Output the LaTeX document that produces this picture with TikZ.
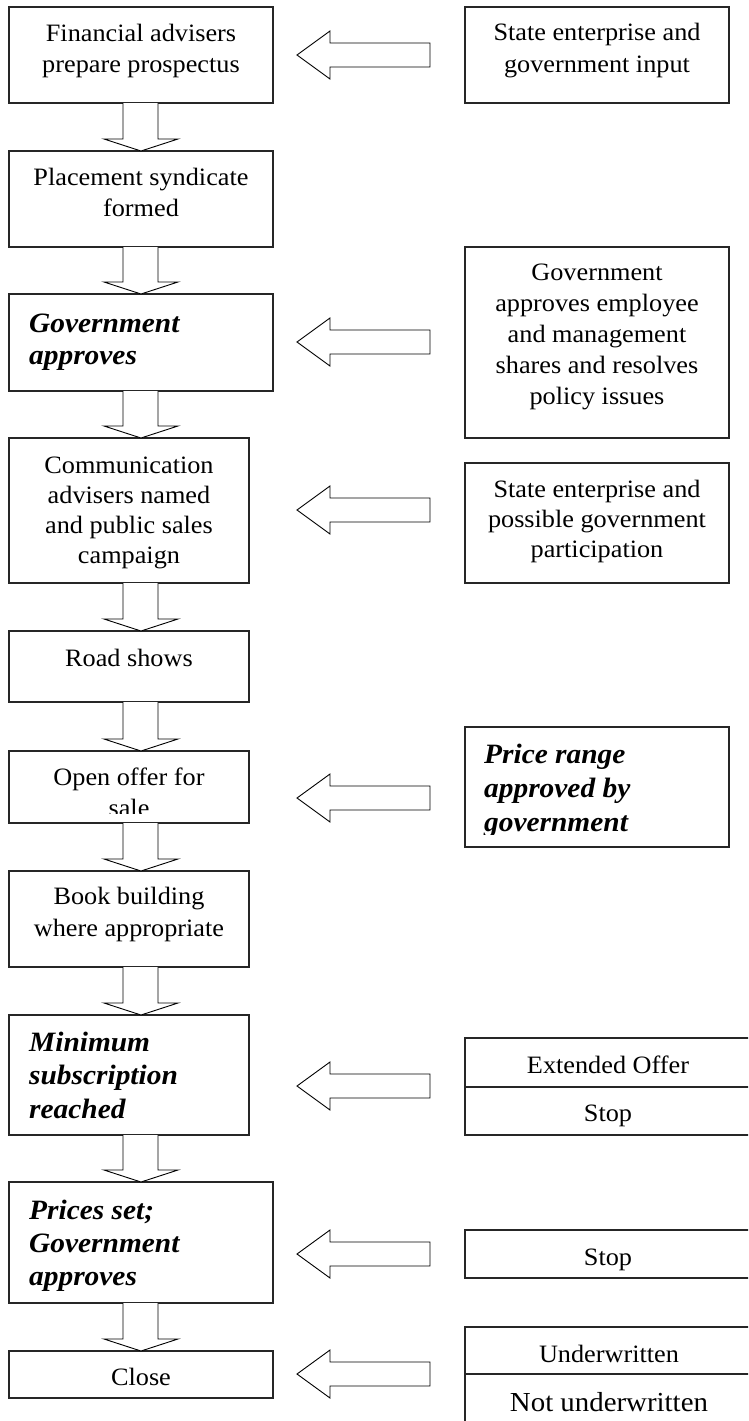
\documentclass[tikz,border=0pt]{standalone}
\usepackage{fontspec}
\setmainfont{Liberation Serif}[FakeStretch=1.05]
\usetikzlibrary{calc}
\tikzset{
  boxshape/.style={draw=black!85, line width=1.2pt, inner sep=0pt, outer sep=0pt, anchor=north west},
  divline/.style={draw=black!85, line width=1.2pt},
  blk/.style={draw=black, line width=0.9pt, line join=miter, fill=white},
  rtxt/.style={anchor=base, inner sep=0pt, font=\fontsize{25}{31}\selectfont},
  btxt/.style={anchor=base west, inner sep=0pt, font=\fontsize{28}{33}\selectfont\bfseries\itshape},
  bigtxt/.style={anchor=base, inner sep=0pt, font=\fontsize{27.5}{33}\selectfont},
}
\newcommand\bx[5]{\node[boxshape, minimum width=#4pt, minimum height=#5pt] (#1) at (#2,#3) {};}
\newcommand\darr[2]{\draw[blk] let \p1=(#1.south), \p2=(#2.north) in
  (123pt,\y1) -- (123pt,\y2+12pt) -- (104pt,\y2+12pt) -- (141pt,\y2) -- (178pt,\y2+12pt) -- (158pt,\y2+12pt) -- (158pt,\y1);}
\newcommand\larr[2]{%
  \coordinate (#1-tail) at (430,#2);
  \coordinate (#1-tip) at (297,#2);
  \draw[blk] (#1-tip) -- ($(#1-tip)+(33,-24)$) -- ($(#1-tip)+(33,-12)$) -- ($(#1-tail)+(0,-12)$)
     -- ($(#1-tail)+(0,12)$) -- ($(#1-tip)+(33,12)$) -- ($(#1-tip)+(33,24)$) -- cycle;}
\newcommand\tl[6]{\foreach \tline [count=\i from 0] in {#6} {\node[#2] (#1-\i) at (#3,#4+\i*#5) {\tline};}}
\begin{document}
\begin{tikzpicture}[x=1pt,y=-1pt]
\useasboundingbox (0,0) rectangle (748,1421);
\fill[white] (0,0) rectangle (748,1421);
\clip (0,0) rectangle (748,1421);
% left column
\bx{b1}{9}{7}{264}{96}
\bx{b2}{9}{151}{264}{96}
\bx{b3}{9}{294}{264}{97}
\bx{b4}{9}{438}{240}{145}
\bx{b5}{9}{631}{240}{71}
\bx{b6}{9}{751}{240}{72}
\bx{b7}{9}{871}{240}{96}
\bx{b8}{9}{1015}{240}{120}
\bx{b9}{9}{1182}{264}{121}
\bx{b10}{9}{1351}{264}{47}
% right column
\bx{r1}{465}{7}{264}{96}
\bx{r2}{465}{247}{264}{191}
\bx{r3}{465}{463}{264}{120}
\bx{r4}{465}{727}{264}{120}
\bx{r5}{465}{1038}{285}{97}
\bx{r6}{465}{1230}{285}{48}
\bx{r7}{465}{1327}{285}{110}
\draw[divline] ($(r5.north west)+(0,49)$) -- ($(r5.north east)+(0,49)$);
\draw[divline] ($(r7.north west)+(0,47)$) -- ($(r7.north east)+(0,47)$);
% down arrows
\darr{b1}{b2}
\darr{b2}{b3}
\darr{b3}{b4}
\darr{b4}{b5}
\darr{b5}{b6}
\darr{b6}{b7}
\darr{b7}{b8}
\darr{b8}{b9}
\darr{b9}{b10}
% left arrows
\larr{a1}{55}
\larr{a2}{342}
\larr{a3}{510}
\larr{a4}{798}
\larr{a5}{1086}
\larr{a6}{1254}
\larr{a7}{1374}
% texts
\tl{t1}{rtxt}{141}{42}{31}{Financial advisers,prepare prospectus}
\tl{t2}{rtxt}{141}{185}{31}{Placement syndicate,formed}
\tl{t3}{btxt}{29}{332}{32}{Government,approves}
\tl{t4}{rtxt}{129}{473}{30}{Communication,advisers named,and public sales,campaign}
\tl{t5}{rtxt}{129}{666}{31}{Road shows}
\begin{scope}
\clip (9,751) rectangle (249,813);
\tl{t6}{rtxt}{129}{785}{31}{Open offer for,sale}
\end{scope}
\tl{t7}{rtxt}{129}{904}{32}{Book building,where appropriate}
\tl{t8}{btxt}{29}{1051}{33.5}{Minimum,subscription,reached}
\tl{t9}{btxt}{29}{1219}{33}{Prices set;,Government,approves}
\tl{t10}{rtxt}{141}{1385}{31}{Close}
\tl{u1}{rtxt}{597}{41}{31}{State enterprise and,government input}
\tl{u2}{rtxt}{597}{280}{31}{Government,approves employee,and management,shares and resolves,policy issues}
\tl{u3}{rtxt}{597}{497}{30}{State enterprise and,possible government,participation}
\begin{scope}
\clip (465,727) rectangle (729,834);
\tl{u4}{btxt}{484}{763}{34}{Price range,approved by,government}
\end{scope}
\tl{u5a}{rtxt}{608}{1073}{31}{Extended Offer}
\tl{u5b}{rtxt}{608}{1121}{31}{Stop}
\tl{u6}{rtxt}{608}{1265}{31}{Stop}
\tl{u7a}{rtxt}{609}{1362}{31}{Underwritten}
\tl{u7b}{bigtxt}{609}{1411}{31}{Not underwritten}
\end{tikzpicture}
\end{document}
